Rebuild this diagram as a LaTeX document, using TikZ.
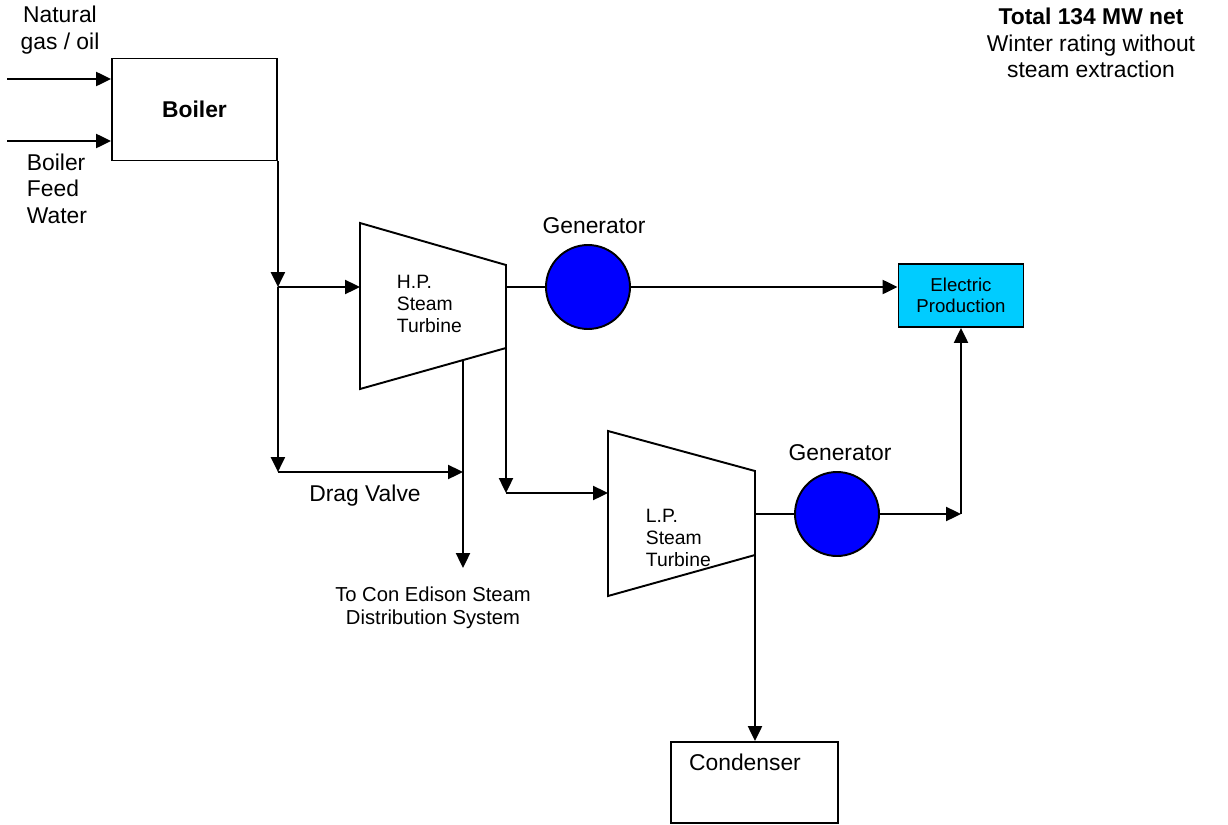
\documentclass[tikz,border=0pt]{standalone}
\usepackage{fontspec}
\setmainfont{Liberation Sans}
\usepackage{tikz}
\usetikzlibrary{positioning,arrows.meta,calc}
\definecolor{PlantBlue}{HTML}{0000FF}
\definecolor{PlantCyan}{HTML}{00CCFF}

\begin{document}
\begin{tikzpicture}[x=0.02cm,y=-0.02cm,line width=1.1pt,
 flow/.style={-{Triangle[length=8.5pt,width=8pt]}},
 unit/.style={draw,minimum width=3.3cm,minimum height=2.04cm,inner sep=0pt},
 gen/.style={draw,circle,fill=PlantBlue,minimum size=1.68cm,inner sep=0pt},
 lbl/.style={font=\fontsize{13}{15}\selectfont,align=center,inner sep=0pt},
 tlbl/.style={font=\fontsize{11}{12.5}\selectfont,align=left,inner sep=0pt},
 slbl/.style={font=\fontsize{11.5}{13}\selectfont,align=center,inner sep=0pt}]
\useasboundingbox (0,0) rectangle (1228,825);
% boiler and inputs
\node[unit] (boiler) at (194.5,109.5) {\fontsize{13}{15}\selectfont\bfseries Boiler};
\coordinate (fuel) at (7,79);
\coordinate (water) at (7,141);
\draw[flow] (fuel) -- (fuel -| boiler.west);
\draw[flow] (water) -- (water -| boiler.west);
\node[lbl] (fuellbl) at (60,30) {Natural\\gas / oil};
\node[lbl,align=left,anchor=north west] (waterlbl) at (26,153) {Boiler\\Feed\\Water};
% turbines
\coordinate (hp1) at (360,223);
\coordinate (hp2) at (506,265);
\coordinate (hp3) at (506,348);
\coordinate (hp4) at (360,389);
\draw (hp1) -- (hp2) -- (hp3) -- (hp4) -- cycle;
\node[tlbl,anchor=west] (hplbl) at (396,304) {H.P.\\Steam\\Turbine};
\coordinate (lp1) at (608,431);
\coordinate (lp2) at (755,471);
\coordinate (lp3) at (755,555);
\coordinate (lp4) at (608,596);
\draw (lp1) -- (lp2) -- (lp3) -- (lp4) -- cycle;
\node[tlbl,anchor=west] (lplbl) at (645,538) {L.P.\\Steam\\Turbine};
% generators and output
\node[gen] (gen1) at (588,287) {};
\node[gen] (gen2) at (837,514) {};
\node[lbl] (gen1lbl) at (594,226) {Generator};
\node[lbl] (gen2lbl) at (840,453) {Generator};
\node[unit,fill=PlantCyan,minimum width=2.5cm,minimum height=1.26cm,
 font=\fontsize{10.6}{12}\selectfont,align=center] (elec) at (961,295.5) {Electric\\Production};
\node[unit,minimum width=3.34cm,minimum height=1.62cm] (cond) at (754.5,782.5) {};
\node[lbl] (condlbl) at (745,762) {Condenser};
% steam lines
\coordinate (j1) at (boiler.south east |- gen1);
\coordinate (j2) at ($(j1)+(0,185)$);
\coordinate (hpb) at (463,360);
\coordinate (coned) at (463,568);
\coordinate (j3) at (506,493);
\draw[flow] (boiler.south east) -- (j1);
\draw[flow] (j1) -- (j1 -| hp1);
\draw[flow] (j1) -- (j2);
\draw[flow] (j2) -- (j2 -| hpb);
\draw[flow] (hpb) -- (coned);
\draw[flow] (hp3) -- (j3);
\draw[flow] (j3) -- (j3 -| lp1);
\draw[flow] (lp3) -- (lp3 |- cond.north);
\node[lbl] (draglbl) at (365,496) {Drag Valve};
\node[slbl] (conedlbl) at (433,608) {To Con Edison Steam\\Distribution System};
% shafts
\coordinate (j4) at (elec.south |- gen2);
\draw (gen1 -| hp2) -- (gen1);
\draw[flow] (gen1) -- (gen1 -| elec.west);
\draw (gen2 -| lp2) -- (gen2);
\draw[flow] (gen2) -- (j4);
\draw[flow] (j4) -- (elec.south);
\node[lbl] (totallbl) at (1091,43) {\textbf{Total 134 MW net}\\Winter rating without\\steam extraction};
\end{tikzpicture}
\end{document}
